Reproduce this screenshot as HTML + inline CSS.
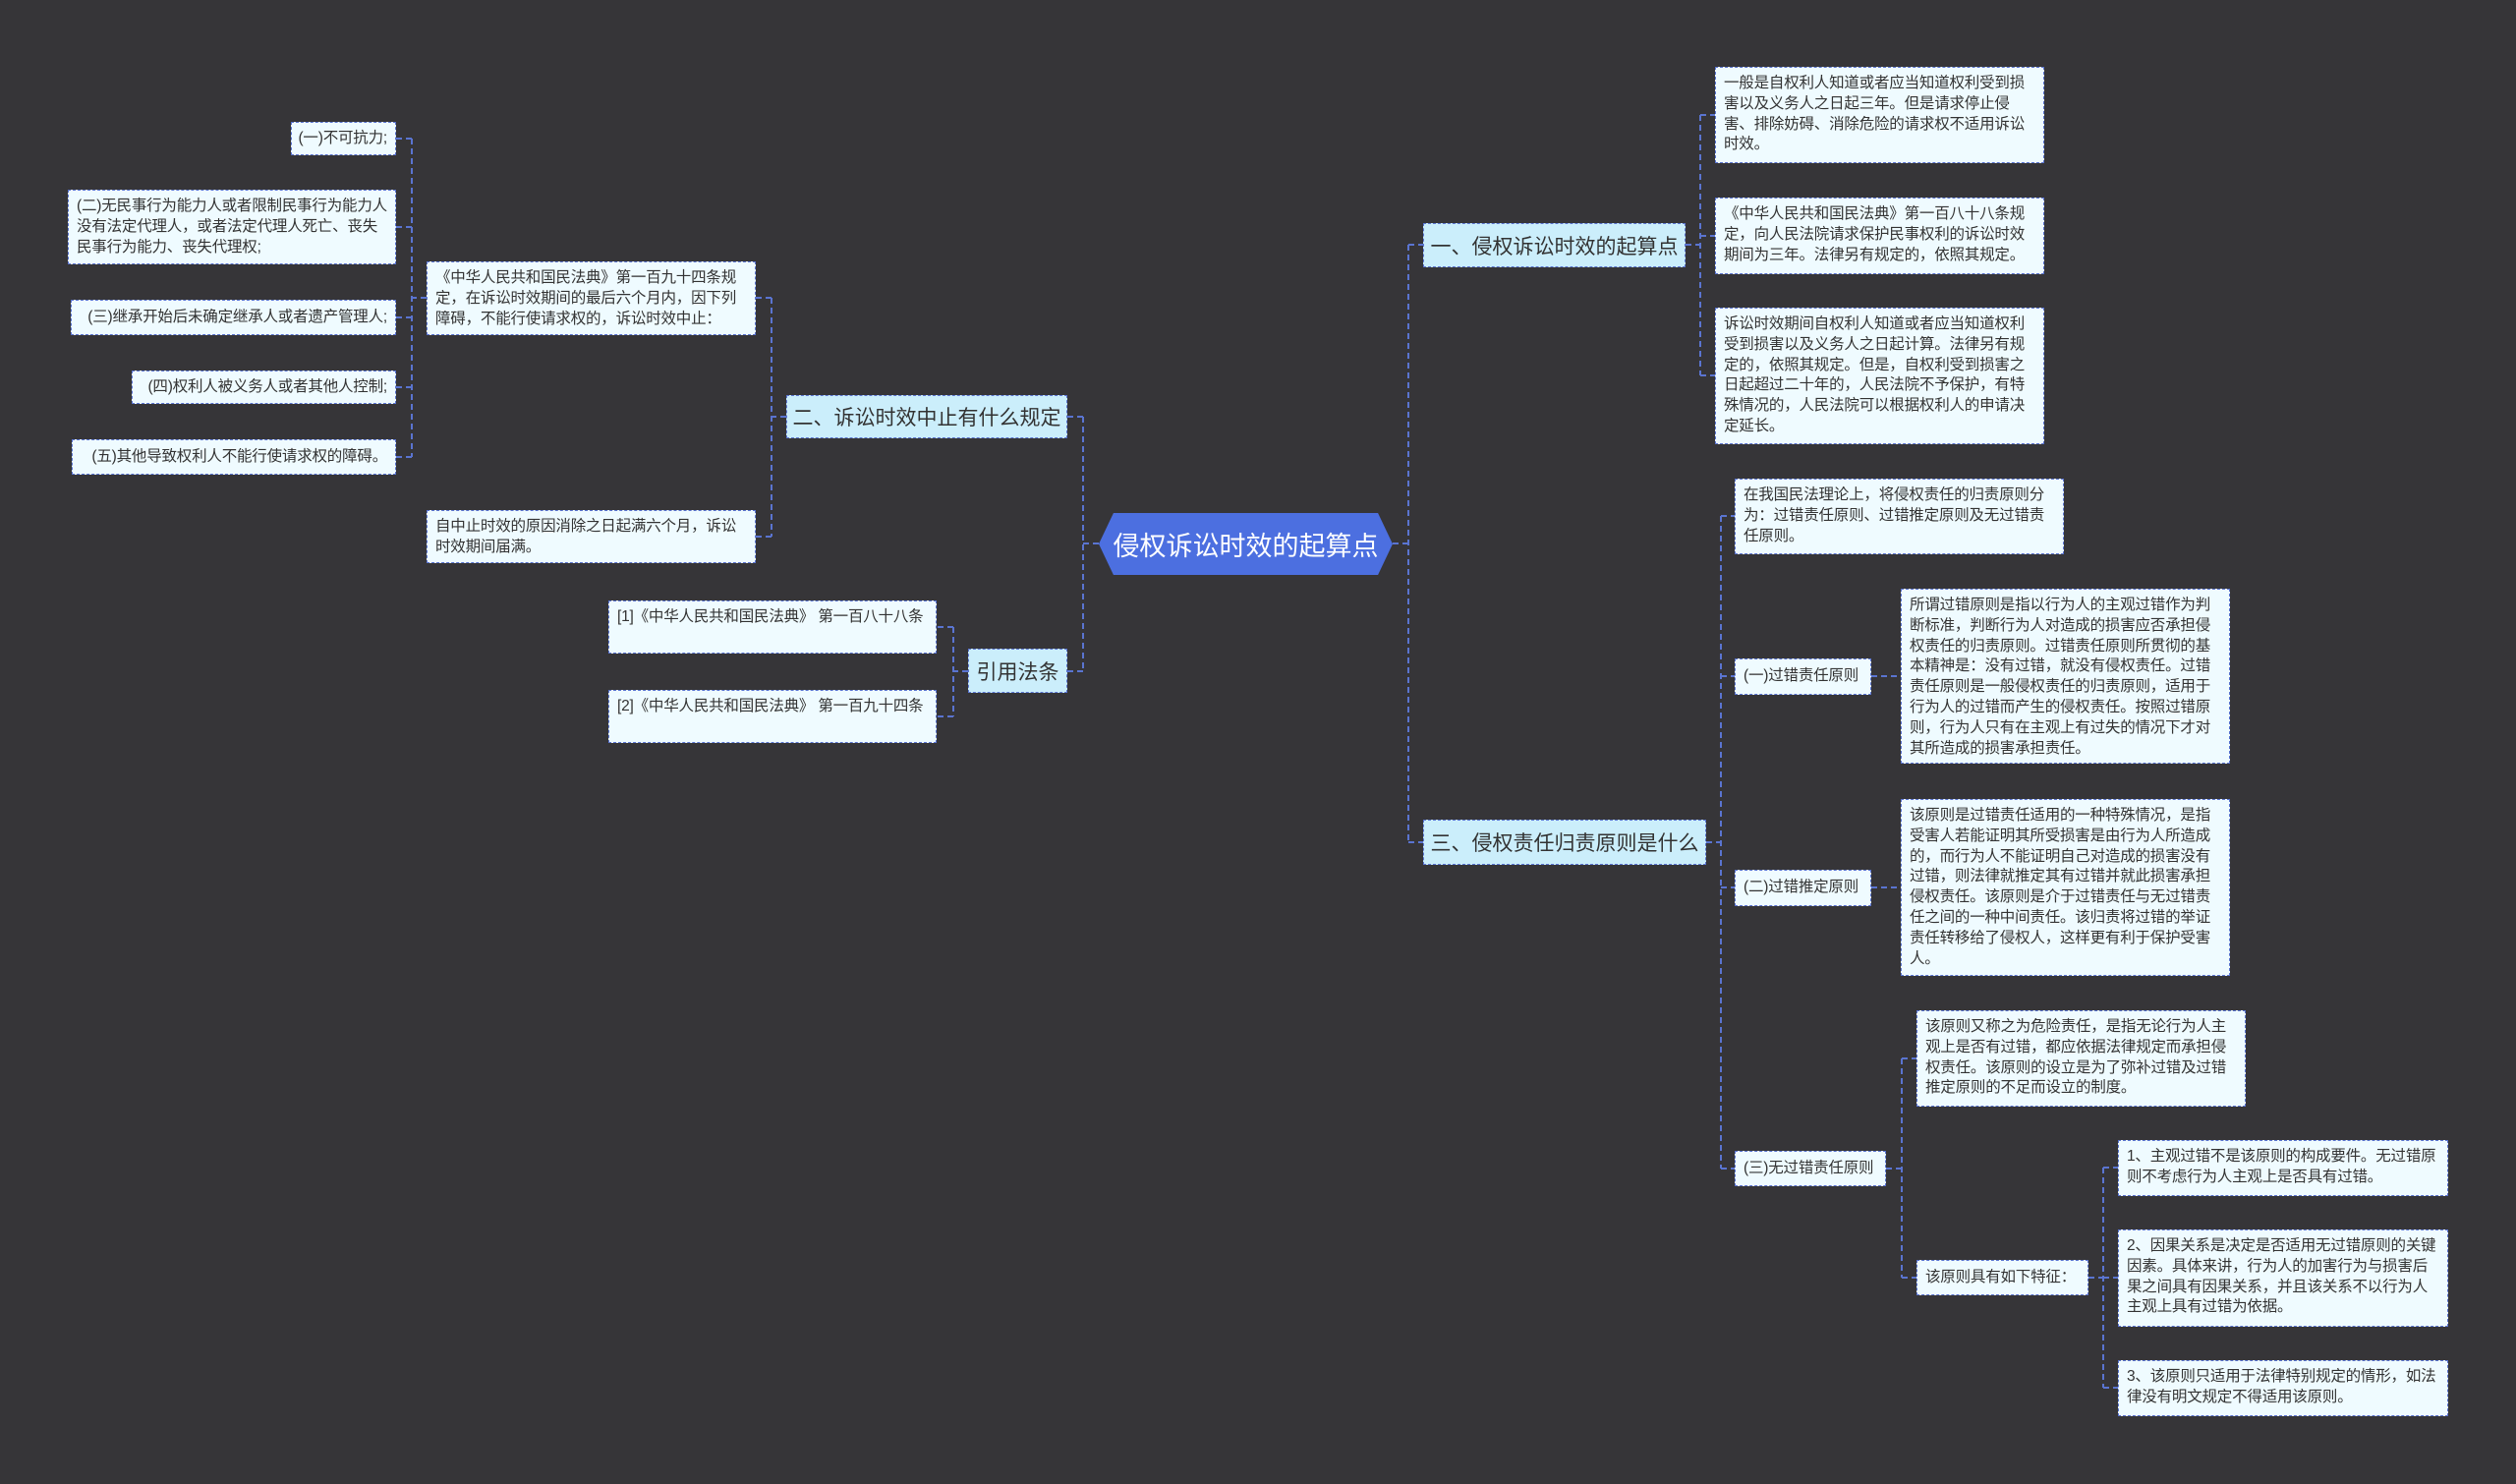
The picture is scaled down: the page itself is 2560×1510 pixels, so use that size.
<!DOCTYPE html>
<html><head><meta charset="utf-8"><style>
body{margin:0;width:2560px;height:1510px;background:#363538;position:relative;overflow:hidden;font-family:"Liberation Sans","Noto Sans CJK SC",sans-serif;}
.b{position:absolute;box-sizing:border-box;background:#effbff;border:1.5px dashed #5a74d0;color:#333;font-size:15.5px;line-height:20.8px;padding:6px 8px;letter-spacing:-0.2px;}
.m{position:absolute;box-sizing:border-box;background:#cbeefb;border:1.5px dashed #5a74d0;color:#333;font-size:21px;display:flex;align-items:center;justify-content:center;white-space:nowrap;}
.s{display:flex;align-items:center;white-space:nowrap;}
.r{text-align:right;justify-content:flex-end;}
svg{position:absolute;left:0;top:0;}
</style></head><body>
<svg width="2560" height="1510"><g fill="none" stroke="#5a74d0" stroke-width="2" stroke-dasharray="6,4">
<path d="M1417 553 H1433 M1433 249 V857 M1433 249 H1448 M1433 857 H1448"/>
<path d="M1715 249 H1730 M1730 117 V382 M1730 117 H1745 M1730 240 H1745 M1730 382 H1745"/>
<path d="M1736 857 H1751 M1751 525 V1189 M1751 525 H1765 M1751 688 H1765 M1751 903 H1765 M1751 1189 H1765"/>
<path d="M1904 688 H1934 M1904 903 H1934"/>
<path d="M1919 1189 H1935 M1935 1077 V1300 M1935 1077 H1950 M1935 1300 H1950"/>
<path d="M2125 1300 H2140 M2140 1188 V1412 M2140 1188 H2155 M2140 1300 H2155 M2140 1412 H2155"/>
<path d="M1118 553 H1102 M1102 424 V683 M1102 424 H1086 M1102 683 H1086"/>
<path d="M800 424 H785 M785 303 V546 M785 303 H769 M785 546 H769"/>
<path d="M434 303 H419 M419 141 V465 M419 141 H403 M419 231 H403 M419 323 H403 M419 394 H403 M419 465 H403"/>
<path d="M985 683 H970 M970 638 V729 M970 638 H953 M970 729 H953"/>
</g></svg>
<div style="position:absolute;left:1118px;top:522px;width:299px;height:63px;background:#4c6fe0;clip-path:polygon(5% 0,95% 0,100% 50%,95% 100%,5% 100%,0 50%);color:#fff;font-size:27px;display:flex;align-items:center;justify-content:center;">侵权诉讼时效的起算点</div>

<div class="m" style="left:800px;top:402px;width:286px;height:44px;">二、诉讼时效中止有什么规定</div>
<div class="m" style="left:985px;top:660px;width:101px;height:45px;">引用法条</div>
<div class="m" style="left:1448px;top:227px;width:267px;height:45px;">一、侵权诉讼时效的起算点</div>
<div class="m" style="left:1448px;top:834px;width:288px;height:46px;">三、侵权责任归责原则是什么</div>

<div class="b" style="left:434px;top:266px;width:335px;height:75px;">《中华人民共和国民法典》第一百九十四条规定，在诉讼时效期间的最后六个月内，因下列障碍，不能行使请求权的，诉讼时效中止：</div>
<div class="b" style="left:434px;top:519px;width:335px;height:54px;">自中止时效的原因消除之日起满六个月，诉讼时效期间届满。</div>
<div class="b s r" style="left:296px;top:124px;width:107px;height:34px;">(一)不可抗力;</div>
<div class="b" style="left:69px;top:193px;width:334px;height:76px;">(二)无民事行为能力人或者限制民事行为能力人没有法定代理人，或者法定代理人死亡、丧失民事行为能力、丧失代理权;</div>
<div class="b s r" style="left:72px;top:305px;width:331px;height:36px;">(三)继承开始后未确定继承人或者遗产管理人;</div>
<div class="b s r" style="left:134px;top:377px;width:269px;height:34px;">(四)权利人被义务人或者其他人控制;</div>
<div class="b s r" style="left:73px;top:447px;width:330px;height:36px;">(五)其他导致权利人不能行使请求权的障碍。</div>
<div class="b" style="left:619px;top:611px;width:334px;height:54px;">[1]《中华人民共和国民法典》 第一百八十八条</div>
<div class="b" style="left:619px;top:702px;width:334px;height:54px;">[2]《中华人民共和国民法典》 第一百九十四条</div>

<div class="b" style="left:1745px;top:68px;width:335px;height:98px;">一般是自权利人知道或者应当知道权利受到损害以及义务人之日起三年。但是请求停止侵害、排除妨碍、消除危险的请求权不适用诉讼时效。</div>
<div class="b" style="left:1745px;top:201px;width:335px;height:78px;">《中华人民共和国民法典》第一百八十八条规定，向人民法院请求保护民事权利的诉讼时效期间为三年。法律另有规定的，依照其规定。</div>
<div class="b" style="left:1745px;top:313px;width:335px;height:139px;">诉讼时效期间自权利人知道或者应当知道权利受到损害以及义务人之日起计算。法律另有规定的，依照其规定。但是，自权利受到损害之日起超过二十年的，人民法院不予保护，有特殊情况的，人民法院可以根据权利人的申请决定延长。</div>
<div class="b" style="left:1765px;top:487px;width:335px;height:77px;">在我国民法理论上，将侵权责任的归责原则分为：过错责任原则、过错推定原则及无过错责任原则。</div>
<div class="b s" style="left:1765px;top:670px;width:139px;height:37px;">(一)过错责任原则</div>
<div class="b" style="left:1934px;top:599px;width:335px;height:178px;">所谓过错原则是指以行为人的主观过错作为判断标准，判断行为人对造成的损害应否承担侵权责任的归责原则。过错责任原则所贯彻的基本精神是：没有过错，就没有侵权责任。过错责任原则是一般侵权责任的归责原则，适用于行为人的过错而产生的侵权责任。按照过错原则，行为人只有在主观上有过失的情况下才对其所造成的损害承担责任。</div>
<div class="b s" style="left:1765px;top:885px;width:139px;height:37px;">(二)过错推定原则</div>
<div class="b" style="left:1934px;top:813px;width:335px;height:180px;">该原则是过错责任适用的一种特殊情况，是指受害人若能证明其所受损害是由行为人所造成的，而行为人不能证明自己对造成的损害没有过错，则法律就推定其有过错并就此损害承担侵权责任。该原则是介于过错责任与无过错责任之间的一种中间责任。该归责将过错的举证责任转移给了侵权人，这样更有利于保护受害人。</div>
<div class="b" style="left:1950px;top:1028px;width:335px;height:98px;">该原则又称之为危险责任，是指无论行为人主观上是否有过错，都应依据法律规定而承担侵权责任。该原则的设立是为了弥补过错及过错推定原则的不足而设立的制度。</div>
<div class="b s" style="left:1765px;top:1171px;width:154px;height:36px;">(三)无过错责任原则</div>
<div class="b s" style="left:1950px;top:1282px;width:175px;height:36px;">该原则具有如下特征：</div>
<div class="b" style="left:2155px;top:1160px;width:336px;height:57px;">1、主观过错不是该原则的构成要件。无过错原则不考虑行为人主观上是否具有过错。</div>
<div class="b" style="left:2155px;top:1251px;width:336px;height:99px;">2、因果关系是决定是否适用无过错原则的关键因素。具体来讲，行为人的加害行为与损害后果之间具有因果关系，并且该关系不以行为人主观上具有过错为依据。</div>
<div class="b" style="left:2155px;top:1384px;width:336px;height:57px;">3、该原则只适用于法律特别规定的情形，如法律没有明文规定不得适用该原则。</div>
</body></html>
